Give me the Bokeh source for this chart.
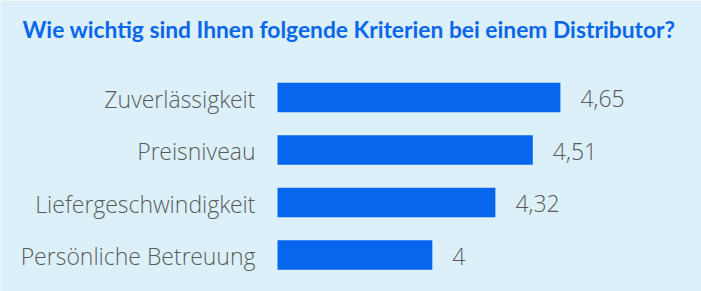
from bokeh.plotting import figure
from bokeh.models import Range1d, ColumnDataSource, Label
from bokeh.core.properties import value
from bokeh.embed import file_html
from bokeh.resources import INLINE

title_text = "Wie wichtig sind Ihnen folgende Kriterien bei einem Distributor?"
categories = ["Zuverlässigkeit", "Preisniveau", "Liefergeschwindigkeit", "Persönliche Betreuung"]
values = [4.65, 4.51, 4.32, 4.0]
value_labels = ["4,65", "4,51", "4,32", "4"]

W, H = 701, 291
BG = "#dbf0f8"
BAR = "#0866ee"
GREY = "#5a5a5a"
BLUE = "#0a66ea"

# scale: 197 px per unit, bar baseline at pixel 277
ppu = 197.0
base = 3.214
xs = base - 277 / ppu
x_range = Range1d(xs, xs + W / ppu)

rowpx = 52.5
top = 0 - 97 / rowpx
y_range = Range1d(start=top + H / rowpx, end=top)

idx = list(range(len(categories)))
src = ColumnDataSource(dict(y=idx, v=values, cat=categories, lab=value_labels,
                            left=[base] * len(values)))

p = figure(width=W, height=H, x_range=x_range, y_range=y_range,
           output_backend="svg", toolbar_location=None, min_border=0,
           background_fill_color=BG, border_fill_color=BG, outline_line_color=None)
p.axis.visible = False
p.grid.visible = False

p.hbar(y="y", left="left", right="v", height=29.5 / rowpx, source=src,
       fill_color=BAR, line_color=None)

font = value("'Open Sans Light', 'Open Sans'")
p.text(x="left", y="y", text="cat", source=src, x_offset=-22, y_offset=1,
       text_align="right", text_baseline="middle", text_font=font,
       text_font_size="23px", text_color=GREY)
p.text(x="v", y="y", text="lab", source=src, x_offset=20, y_offset=1,
       text_align="left", text_baseline="middle", text_font=font,
       text_font_size="23px", text_color=GREY)

p.add_layout(Label(x=22, y=H - 28, x_units="screen", y_units="screen",
                   text=title_text, text_font="Lato", text_font_style="bold",
                   text_font_size="22.8px", text_color=BLUE, text_baseline="alphabetic"))

open("out.html", "w").write(file_html(p, INLINE))
